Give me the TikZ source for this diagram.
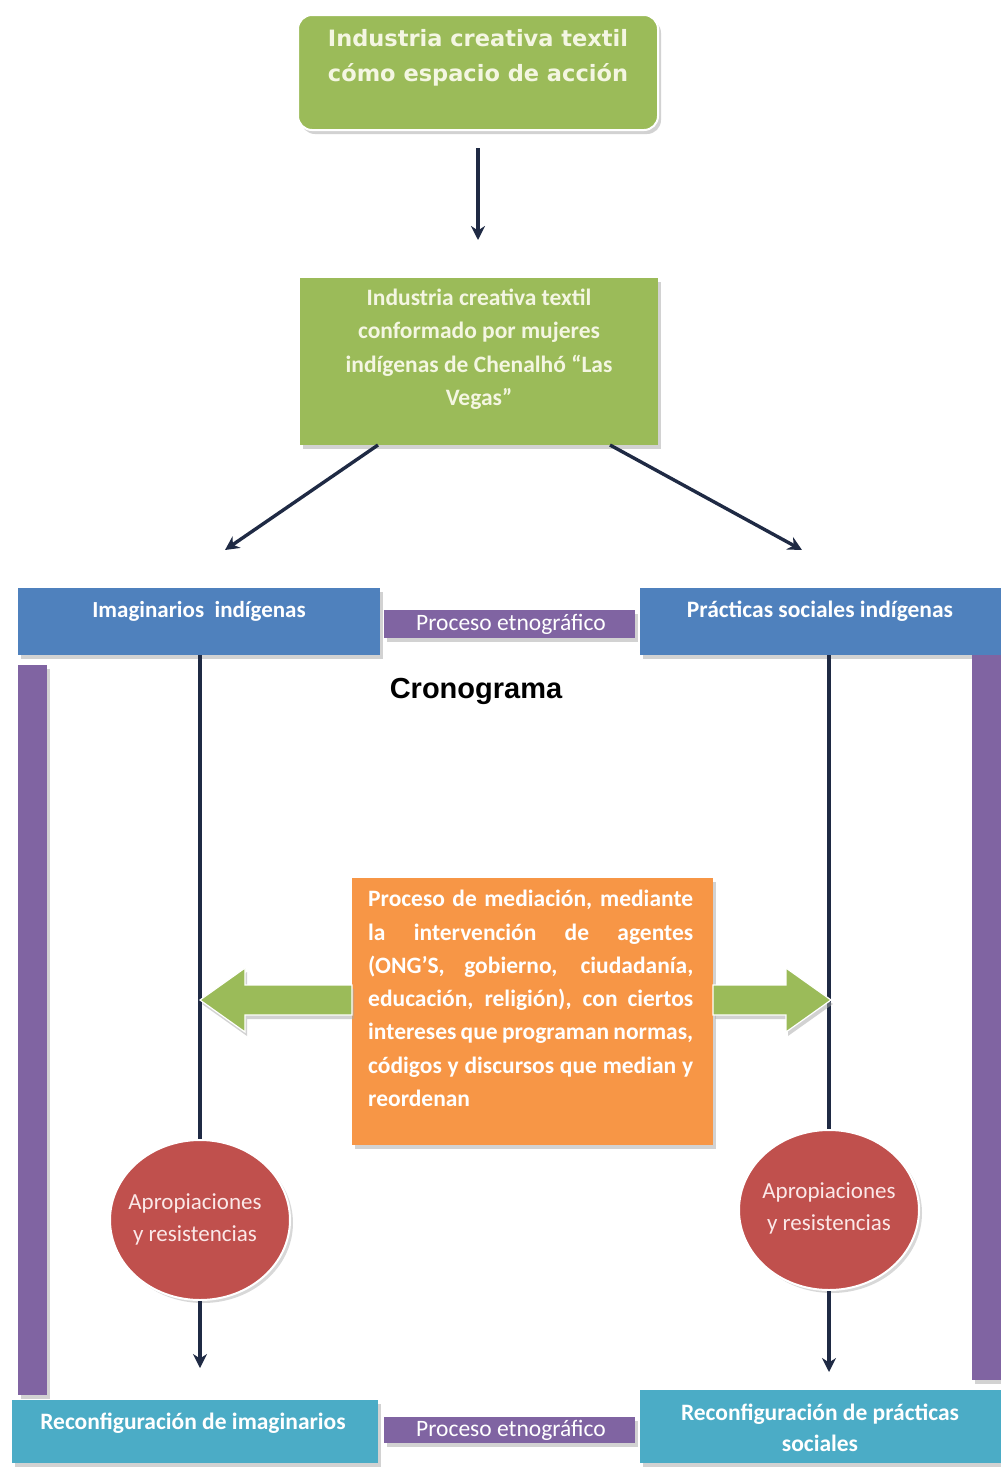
\documentclass[tikz,border=0pt]{standalone}
\usepackage{fontspec}
\setmainfont{Carlito}
\newfontfamily\dejavu{DejaVu Sans}
\newfontfamily\arialf{Liberation Sans}
\usetikzlibrary{shadows,arrows.meta,shapes.geometric}
\definecolor{tgreen}{HTML}{9BBB59}
\definecolor{tblue}{HTML}{4F81BD}
\definecolor{tpurple}{HTML}{8064A2}
\definecolor{torange}{HTML}{F79646}
\definecolor{tred}{HTML}{C0504D}
\definecolor{tteal}{HTML}{4BACC6}
\definecolor{tnavy}{HTML}{1F2A44}
\definecolor{tcream}{HTML}{F4F6E2}
\definecolor{tpink}{HTML}{FBE8E8}
\newcommand{\jline}[1]{\makebox[325pt][s]{#1}}
\begin{document}
\begin{tikzpicture}[x=1pt,y=-1pt,
  boxshape/.style={anchor=north west, inner sep=0pt, outer sep=0pt,
    drop shadow={shadow xshift=3pt, shadow yshift=-4pt, fill=black!35, opacity=0.5}},
  lbl/.style={text=white, inner sep=0pt, align=center},
  conn/.style={draw=tnavy, line width=3.4pt, -{Stealth[length=14pt,width=14pt]}},
  plainline/.style={draw=tnavy, line width=3.4pt},
  circ/.style={ellipse, fill=tred, draw=white, line width=2pt, minimum width=180pt, minimum height=160pt, inner sep=0pt,
    drop shadow={shadow xshift=3pt, shadow yshift=-3pt, fill=black!30, opacity=0.5}},
  blockarrow/.style={fill=tgreen, draw=white, line width=1.2pt,
    drop shadow={shadow xshift=2pt, shadow yshift=-4pt, fill=black!35, opacity=0.5}}
]
\useasboundingbox (0,0) rectangle (1001,1468);

% top box
\node[boxshape, rounded corners=14pt, fill=tgreen, draw=white, line width=2pt,
  minimum width=360pt, minimum height=115pt] (top) at (298,15) {};
\node[lbl, text=tcream, font=\dejavu\bfseries\fontsize{22.5}{35}\selectfont] (toptxt) at (478,58)
  {Industria creativa textil\\cómo espacio de acción};

% second box
\node[boxshape, fill=tgreen, minimum width=358pt, minimum height=167pt] (second) at (300,278) {};
\node[lbl, text=tcream, font=\bfseries\fontsize{23.5}{33.5}\selectfont] (secondtxt) at (479,349)
  {Industria creativa textil\\conformado por mujeres\\indígenas de Chenalhó “Las\\Vegas”};

\coordinate (topout) at ([yshift=-18pt]top.south);
\coordinate (secin) at ([yshift=38pt]second.north);
\draw[conn] (topout) -- (topout |- secin);

\coordinate (la) at (225,550);
\coordinate (ra) at (802,550);
\draw[conn] ([xshift=78pt]second.south west) -- (la);
\draw[conn] ([xshift=-48pt]second.south east) -- (ra);

% blue boxes
\node[boxshape, fill=tblue, minimum width=362pt, minimum height=67pt] (imag) at (18,588) {};
\node[lbl, font=\bfseries\fontsize{23}{26}\selectfont] (imagtxt) at (199,611) {Imaginarios\ \ indígenas};
\node[boxshape, fill=tblue, minimum width=361pt, minimum height=67pt] (prac) at (640,588) {};
\node[lbl, font=\bfseries\fontsize{23.5}{26}\selectfont] (practxt) at (820,611) {Prácticas sociales indígenas};

% purple labels
\node[boxshape, fill=tpurple, minimum width=251pt, minimum height=28pt] (etnoA) at (384,610) {};
\node[lbl, font=\fontsize{23.5}{26}\selectfont] (etnoAtxt) at (511,624) {Proceso etnográfico};

\node[font=\arialf\bfseries\fontsize{29}{32}\selectfont, inner sep=0pt] (crono) at (476,691) {Cronograma};

% purple bars
\node[boxshape, fill=tpurple, minimum width=29pt, minimum height=730pt] (barL) at (18,665) {};
\node[boxshape, fill=tpurple, minimum width=29pt, minimum height=725pt] (barR) at (972,655) {};

% orange box
\node[boxshape, fill=torange, minimum width=361pt, minimum height=267pt] (med) at (352,878) {};
\node[anchor=north west, inner sep=0pt, text=white, align=left,
  font=\bfseries\fontsize{23.5}{33.3}\selectfont] (medtxt) at (368,890)
  {\jline{Proceso de mediación, mediante}\\
   \jline{la intervención de agentes}\\
   \jline{(ONG’S, gobierno, ciudadanía,}\\
   \jline{educación, religión), con ciertos}\\
   \jline{intereses que programan normas,}\\
   \jline{códigos y discursos que median y}\\
   reordenan};

% circles
\node[circ] (circL) at (200,1220) {};
\node[lbl, text=tpink, font=\fontsize{23}{32}\selectfont] (circLtxt) at (195,1219) {Apropiaciones\\y resistencias};
\node[circ] (circR) at (829,1210) {};
\node[lbl, text=tpink, font=\fontsize{23}{32}\selectfont] (circRtxt) at (829,1208) {Apropiaciones\\y resistencias};

% vertical connectors
\draw[plainline] (imag.south -| circL.north) -- (circL.north);
\draw[plainline] (prac.south -| circR.north) -- (circR.north);
\coordinate (endL) at (200,1368);
\coordinate (endR) at (829,1372);
\draw[conn] (circL.south) -- (endL);
\draw[conn] (circR.south) -- (endR);

% green block arrows
\fill[blockarrow] (352,985) -- (245,985) -- (245,968) -- (200,1000) -- (245,1032) -- (245,1015) -- (352,1015) -- cycle;
\fill[blockarrow] (713,985) -- (786,985) -- (786,968) -- (831,1000) -- (786,1032) -- (786,1015) -- (713,1015) -- cycle;

% bottom boxes
\node[boxshape, fill=tteal, minimum width=366pt, minimum height=63pt] (recL) at (12,1400) {};
\node[lbl, font=\bfseries\fontsize{23.5}{26}\selectfont] (recLtxt) at (193,1423) {Reconfiguración de imaginarios};
\node[boxshape, fill=tpurple, minimum width=251pt, minimum height=26pt] (etnoB) at (384,1417) {};
\node[lbl, font=\fontsize{23.5}{26}\selectfont] (etnoBtxt) at (511,1430) {Proceso etnográfico};
\node[boxshape, fill=tteal, minimum width=361pt, minimum height=73pt] (recR) at (640,1390) {};
\node[lbl, font=\bfseries\fontsize{23.5}{31}\selectfont] (recRtxt) at (820,1428) {Reconfiguración de prácticas\\sociales};
\end{tikzpicture}
\end{document}
